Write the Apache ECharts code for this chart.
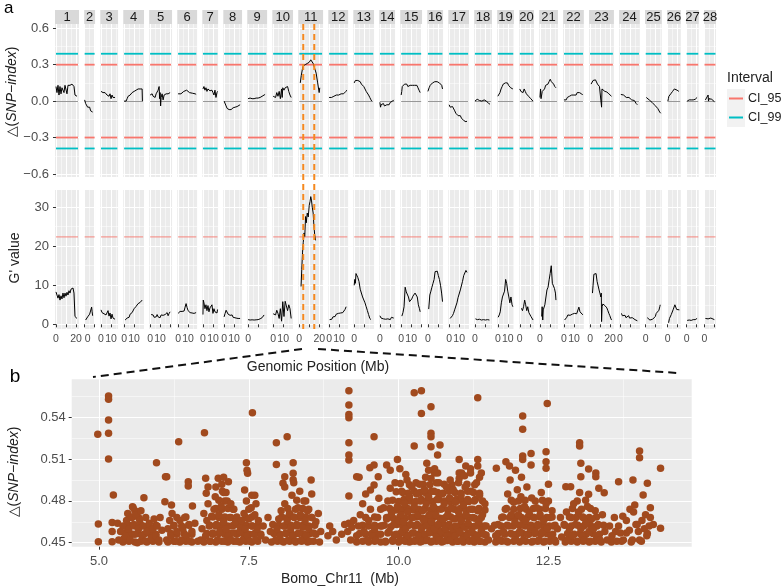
<!DOCTYPE html>
<html><head><meta charset="utf-8">
<script src="https://cdn.jsdelivr.net/npm/echarts@6/dist/echarts.min.js"></script>
<style>html,body{margin:0;padding:0;background:#fff}#c{width:784px;height:587px}</style>
</head><body><div id="c"></div>
<script>
// ---------------- DATA ----------------
const chromosomes = ['1','2','3','4','5','6','7','8','9','10','11','12','13','14','15','16','17','18','19','20','21','22','23','24','25','26','27','28'];
const chrLengthMb = [22,10,16.3,19,21,18.2,14.5,17.2,18.2,19,22.8,18.2,19,14.5,20,14.5,19,16.3,15.4,13.6,17.2,19,22.8,19,15.4,12.7,11.7,11];
const xTickLabelsShown = [[0,20],[0],[0,10],[0,10],[0,10],[0,10],[0,10],[0,10],[0],[0,10],[0,20],[0,10],[0],[0],[0,10],[0],[0,10],[0],[0,10],[0],[0],[0,10],[0,20],[0],[0],[0],[0],[0]];
const ci95Levels = [0.30, -0.30];
const ci99Levels = [0.39, -0.39];
const gPrimeThreshold = [22.4];
const chr11Region = [4, 15];

const deltaSnpIndex = [
 [[0,0.12],[1,0.07],[2,0.13],[3,0.05],[4,0.12],[5,0.06],[6,0.11],[7,0.12],[8,0.07],[9,0.13],[10,0.12],[11,0.06],[12,0.13],[13,0.12],[14,0.13],[15,0.14],[16,0.14],[17,0.13],[18,0.12],[19,0.05],[20,0.04],[21,0.04]],
 [[0,0.01],[1,-0.02],[2,-0.03],[3,-0.05],[4,-0.06],[5,-0.05],[6,-0.08],[7,-0.07],[8,-0.09]],
 [[0,0.08],[1,0.07],[2,0.07],[3,0.06],[4,0.07],[5,0.06],[6,0.05],[7,0.06],[8,0.04],[9,0.06],[10,0.02],[11,0.05],[12,0.03],[13,0.04],[14,0.03]],
 [[0,0],[1,-0.01],[2,0.0],[3,0.02],[4,0.04],[5,0.05],[6,0.05],[7,0.06],[8,0.07],[9,0.06],[10,0.08],[11,0.08],[12,0.09],[13,0.09],[14,0.1],[15,0.09],[16,0.1],[17,0.1],[17.5,0.11],[18,0.1],[18.3,0.0]],
 [[0,0.05],[1,0.04],[2,0.06],[3,0.04],[4,0.05],[5,0.03],[6,0.06],[7,0.05],[8,0.09],[9,0.12],[9.5,0.02],[10,0.07],[10.5,-0.04],[11,0.03],[12,0.06],[13,0.01],[14,0.05],[15,0.04],[16,0.06],[17,0.05],[18,0.06],[19,0.06],[20,0.07]],
 [[0,0.06],[0.95,0.065],[1.9,0.07],[2.85,0.06],[3.8,0.065],[4.75,0.06],[5.7,0.08],[6.65,0.07],[7.6,0.075],[8.55,0.09],[9.5,0.08],[10.45,0.075],[11.4,0.07],[12.35,0.065],[13.3,0.06],[14.25,0.065],[15.2,0.07],[16.15,0.06],[17.1,0.06],[18.05,0.055]],
 [[0,0.1],[1,0.12],[2,0.09],[3,0.11],[4,0.08],[5,0.1],[6,0.09],[7,0.085],[8,0.08],[9,0.09],[10,0.07],[11,0.05],[12,0.09],[13,0.03],[14,0.07],[14.6,0.08]],
 [[0,0.0],[1,-0.01],[2,-0.04],[3,-0.06],[4,-0.07],[5,-0.07],[6,-0.06],[7,-0.07],[8,-0.06],[9,-0.055],[10,-0.05],[11,-0.05],[12,-0.04],[13,-0.045],[14,-0.03],[15,-0.035],[16,-0.03]],
 [[0,0.02],[1,0.02],[2,0.025],[3,0.015],[4,0.02],[5,0.015],[6,0.02],[7,0.02],[8,0.025],[9,0.02],[10,0.025],[11,0.03],[12,0.03],[13,0.035],[14,0.04],[15,0.045],[16,0.05],[17,0.055]],
 [[0,0.04],[1.2,0.05],[2.4,0.03],[3.6,0.07],[4.8,0.04],[6,0.08],[7.2,0.02],[8.4,0.1],[9,0.03],[9.6,0.11],[10.8,0.09],[12,0.11],[13.2,0.1],[14.4,0.12],[15.6,0.08],[16.8,0.05],[18,0.03]],
 [[1,0.15],[2,0.21],[3.3,0.27],[4,0.29],[5,0.28],[6,0.3],[7,0.29],[8,0.31],[9,0.3],[10,0.32],[11,0.33],[11.5,0.34],[12.5,0.33],[13.9,0.31],[15.4,0.27],[16.9,0.23],[18.4,0.15],[19.9,0.07],[20.5,0.11]],
 [[0,0.03],[1.2,0.02],[2.4,0.03],[3.6,0.02],[4.8,0.04],[6,0.05],[7.2,0.05],[8.4,0.06],[9.6,0.05],[10.8,0.06],[12,0.06],[13.2,0.07],[14.4,0.06],[15.6,0.07],[16.8,0.08],[17.6,0.09]],
 [[0,0.15],[1.2,0.17],[2.4,0.18],[3.6,0.17],[4.8,0.16],[6,0.16],[7.2,0.14],[8.4,0.13],[9.6,0.12],[10.8,0.1],[12,0.08],[13.2,0.07],[14.4,0.05],[15.6,0.03],[16.8,0.01],[17.6,0.0]],
 [[0,-0.01],[0.6,-0.05],[1.2,-0.03],[2.3,-0.04],[3.5,-0.02],[4.6,-0.04],[5.8,-0.03],[6.9,-0.03],[8,-0.02],[9.2,-0.03],[10.4,-0.01],[11.5,-0.02],[12.7,0.0],[13.8,0.01]],
 [[0,0.05],[0.6,0.08],[1.1,0.12],[2.2,0.13],[3.4,0.14],[4.5,0.15],[5.6,0.14],[6.7,0.12],[7.8,0.13],[9,0.13],[10.1,0.12],[11.2,0.13],[12.3,0.12],[13.4,0.13],[14.6,0.14],[15.7,0.13],[16.8,0.11],[17.9,0.09],[19,0.07]],
 [[0,0.08],[1.2,0.11],[2.3,0.13],[3.5,0.14],[4.6,0.15],[5.8,0.16],[6.9,0.16],[8,0.17],[9.2,0.16],[10.4,0.17],[11.5,0.15],[12.7,0.14],[13.8,0.13],[14.6,0.1]],
 [[0,-0.03],[1.1,-0.05],[2.2,-0.055],[3.4,-0.045],[4.5,-0.06],[5.6,-0.08],[6.7,-0.1],[7.8,-0.11],[9,-0.12],[10.1,-0.13],[11.2,-0.12],[12.3,-0.14],[13.4,-0.15],[14.6,-0.16],[15.7,-0.165],[16.8,-0.17],[17.9,-0.165]],
 [[0,0.0],[1.2,0.01],[2.3,0.015],[3.5,0.01],[4.6,0.005],[5.8,0.01],[6.9,0.0],[8,0.005],[9.2,0.01],[10.4,-0.005],[11.5,0.0],[12.7,-0.01],[13.8,-0.02],[15,-0.025]],
 [[0,0.04],[1.1,0.05],[2.1,0.07],[3.2,0.1],[4.3,0.12],[5.4,0.14],[6.4,0.13],[7.5,0.15],[8.6,0.165],[9.6,0.15],[10.7,0.13],[11.8,0.14],[12.8,0.11],[13.9,0.1],[15,0.1]],
 [[0,0.1],[1.1,0.08],[2.2,0.09],[3.3,0.07],[4.4,0.1],[5.5,0.08],[6.6,0.06],[7.7,0.07],[8.8,0.04],[9.9,0.05],[11,0.02],[12.1,0.01],[13.2,0.0]],
 [[0,0.03],[0.6,0.1],[1.1,0.02],[2.3,0.08],[3.4,0.09],[4.6,0.1],[5.7,0.13],[6.8,0.12],[8,0.14],[9.1,0.16],[10.3,0.18],[11.4,0.16],[12.5,0.15],[13.7,0.14],[14.8,0.12],[16,0.11]],
 [[0,0.01],[1.1,0.02],[2.2,0.01],[3.3,0.03],[4.4,0.02],[5.5,0.04],[6.6,0.03],[7.7,0.05],[8.8,0.04],[9.9,0.05],[11,0.06],[12.1,0.05],[13.2,0.07],[14.3,0.06],[15.4,0.07],[16.5,0.08],[17.6,0.06],[18.7,0.05]],
 [[1,0.14],[2,0.15],[3,0.17],[4.2,0.18],[5.4,0.175],[6.4,0.16],[7.4,0.14],[8.4,0.13],[9.4,0.12],[10.4,0.12],[11.2,0.11],[11.5,-0.05],[11.9,0.1],[12.8,0.09],[13.8,0.09],[14.8,0.08],[15.8,0.08],[16.8,0.075],[17.8,0.07],[18.8,0.06],[19.8,0.05],[20.6,0.045],[21.4,0.04]],
 [[0.9,0.055],[1.8,0.05],[2.7,0.04],[3.6,0.05],[4.5,0.035],[5.4,0.045],[6.3,0.03],[7.2,0.04],[8.1,0.02],[9,0.03],[9.9,0.02],[10.8,0.025],[11.7,0.01],[12.6,0.015],[13.5,0.0],[14.4,0.005],[15.3,-0.01],[16.2,-0.02],[17.4,-0.03]],
 [[0.6,0.03],[1.6,0.025],[2.5,0.02],[3.5,0.01],[4.4,0.005],[5.4,0.0],[6.3,-0.01],[7.3,-0.02],[8.2,-0.015],[9.2,-0.035],[10.1,-0.05],[11.1,-0.045],[12,-0.06],[13,-0.075],[14,-0.09],[15,-0.1]],
 [[0.3,0.0],[0.8,0.02],[1.3,0.04],[2.3,0.05],[3.2,0.06],[4.1,0.07],[5,0.08],[5.9,0.09],[6.8,0.1],[7.7,0.095],[8.6,0.1],[9.5,0.09],[10.4,0.085],[11.3,0.08]],
 [[0.6,0.0],[1.6,0.005],[2.6,0.01],[3.6,0.0],[4.6,0.01],[5.6,0.015],[6.6,0.01],[7.6,0.02],[8.6,0.015],[9.6,0.025],[10.5,0.03]],
 [[0.9,0.01],[1.8,0.01],[2.7,0.02],[3.6,0.05],[4,0.0],[4.5,0.02],[5.4,0.015],[6.3,0.01],[7.2,0.015],[8.1,0.005],[9,0.01],[9.9,-0.005]]
];

const gPrimeValue = [
 [[0,8.3],[1,7.9],[2,6.7],[3,7.6],[4,6.2],[5,7.3],[6,6.5],[7,8.0],[8,6.8],[9,8.0],[10,7.2],[11,8.2],[12,7.5],[13,8.6],[14,8.0],[15,9.0],[16,9.5],[17,9.3],[18,8.0],[19,2.0],[20,1.6],[21,1.5]],
 [[1,1.1],[2,1.5],[3,1.9],[4,2.2],[5,2.6],[6,3.0],[7,4.4],[7.5,3.2],[8,2.2]],
 [[0,3.7],[1,3.0],[2,3.4],[3,2.7],[4,3.2],[5,2.4],[6,2.8],[7,3.5],[8,2.1],[9,2.9],[10,1.4],[11,2.6],[12,1.6],[13,1.9],[14,1.3]],
 [[1,1.1],[2,1.3],[3,1.6],[4,2.0],[5,1.8],[6,2.6],[7,2.2],[8,3.0],[9,3.4],[10,4.0],[11,3.6],[12,4.6],[13,4.2],[14,5.3],[15,5.0],[16,5.6],[17,5.8],[18,6.2]],
 [[1,2.5],[2,2.2],[3,2.4],[4,1.8],[5,2.2],[6,1.9],[7,2.5],[8,1.9],[9,2.3],[10,1.7],[11,2.4],[12,2.0],[13,2.3],[14,1.9],[15,2.5],[16,2.6],[17,3.0],[18,2.2],[19,2.8],[20,3.2]],
 [[0,2.8],[1,3.1],[2,3.3],[3,2.9],[4,3.3],[5,3.8],[6,3.4],[7,4.4],[8,5.3],[9,4.3],[10,3.5],[11,3.9],[12,3.0],[13,3.2],[14,2.9],[15,3.0],[16,2.8],[17,2.9],[18,3.0]],
 [[0,2.5],[0.3,6.2],[1,5.5],[2,4.0],[3,5.0],[4,3.5],[5,4.8],[6,3.2],[7,4.2],[8,3.7],[9,5.0],[10,2.8],[11,4.0],[12,3.2],[13,3.7],[14,2.9],[14.6,3.8]],
 [[0,1.9],[1,2.8],[2,3.6],[3,3.2],[4,2.6],[5,3.0],[6,2.3],[7,2.0],[8,2.4],[9,1.8],[10,1.6],[12,1.6],[14,1.5],[16,1.5]],
 [[0,1.2],[2,1.1],[4,1.15],[6,1.1],[8,1.15],[10,1.2],[11,1.3],[12,1.4],[13,1.5],[14,1.7],[15,2.0],[16,2.4]],
 [[0,2.7],[1.2,3.0],[2.4,2.4],[3.6,3.6],[4.8,2.8],[6,1.5],[7.2,4.0],[8.4,0.8],[9.6,5.8],[10.8,2.0],[12,5.9],[13.2,5.7],[14.4,3.5],[15.6,5.0],[16.8,4.0],[18,1.5]],
 [[1.8,9.7],[2.5,14],[3.3,18.5],[4,21],[4.8,23.4],[5.5,22.5],[6.3,27.6],[7,26],[8,28.5],[9,27.5],[10,30.5],[10.8,31.5],[11.5,32.7],[12.2,31.8],[13,30],[13.9,28.5],[14.6,25.5],[15.4,23],[16.3,21.5]],
 [[0.5,1.2],[1.6,1.5],[2.7,1.3],[3.8,1.9],[4.9,2.2],[6,2.0],[7.1,2.6],[8.2,2.4],[9.3,2.8],[10.4,2.5],[11.5,2.9],[12.6,2.6],[13.7,3.0],[14.8,3.4],[15.9,3.8],[17,4.5]],
 [[0,10],[0.6,11.5],[1.2,10.5],[1.8,13],[2.4,13.5],[3.6,12],[4.8,11],[6,9],[7.2,8.5],[8.4,7],[9.6,6.5],[10.8,5.5],[12,4.5],[13.2,3.5],[14.4,2.5],[15.6,1.5],[16.8,1.2]],
 [[0,2.2],[1.2,1.6],[2.3,2.0],[3.5,1.4],[4.6,1.8],[5.8,1.3],[6.9,1.7],[8,1.4],[9.2,1.5],[10.4,1.2],[11.5,1.8],[12.7,1.3],[13.8,1.6]],
 [[0.7,2.1],[1.8,3.0],[2.9,4.5],[4,9.5],[5.1,8.3],[6.2,8.6],[7.3,7.0],[8.4,5.8],[9.5,6.2],[10.6,6.5],[11.7,7.2],[12.8,6.8],[13.9,8.0],[15,8.4],[16.1,7.0],[17.2,5.0],[18.3,4.0],[19,3.2]],
 [[0.8,3.9],[1.9,7.5],[3,8.5],[4,9.5],[5.1,10.5],[6.2,11.5],[7.2,13.5],[8.3,13.2],[9.4,13.6],[10.4,12.5],[11.5,11.5],[12.6,10],[13.7,8],[14.6,5.8]],
 [[1,1.5],[2.1,2.0],[3.3,2.2],[4.4,2.8],[5.5,3.7],[6.7,4.0],[7.8,5.5],[8.9,6.8],[10,7.2],[11.2,8.8],[12.3,9.0],[13.4,11],[14.6,12.5],[15.7,13.0],[16.8,13.8],[17.9,13.3]],
 [[0.5,1.4],[2.5,1.2],[4.5,1.3],[6.5,1.1],[8.5,1.2],[10.5,1.1],[12.5,1.2],[14.5,1.1]],
 [[0.3,1.8],[1.4,2.4],[2.4,3.2],[3.5,5.5],[4.6,7.0],[5.6,6.8],[6.7,8.5],[7.8,11.5],[8.8,10.5],[9.9,8.5],[11,7.0],[12,5.5],[13.1,7.0],[14.2,5.0],[15,4.5]],
 [[1.7,4.1],[2.7,3.5],[3.8,4.5],[4.9,6.2],[5.9,5.0],[7,3.5],[8,4.5],[9.1,3.0],[10.1,2.5],[11.2,2.0],[12.2,1.5],[13.3,1.1]],
 [[1.7,2.0],[2.2,4.5],[2.8,1.1],[3.3,3.7],[3.8,4.0],[4.9,5.0],[6,5.5],[7,8.8],[8.1,9.5],[9.2,11.4],[10.2,13],[11.3,15],[12.4,10.5],[13.4,11],[14.5,9.2],[15.5,8.0],[16,6.2]],
 [[0.6,1.1],[1.7,1.5],[2.8,1.8],[3.9,2.4],[5,2.6],[6.1,2.3],[7.2,2.8],[8.3,2.6],[9.4,3.0],[10.5,2.8],[11.6,3.2],[12.7,2.7],[13.8,3.0],[14.9,4.4],[16,3.2],[17.1,3.5],[18.2,2.6],[19,2.4]],
 [[2.4,8.0],[3,10],[3.8,12.8],[4.8,13],[5.4,12.4],[6,13],[7,11],[8,10.5],[9,8.8],[10,7.8],[10.8,7.0],[11.2,8.0],[11.5,0.7],[12,4.5],[12.8,5.2],[13.8,5.4],[14.8,4.8],[15.8,5.0],[16.8,4.2],[17.8,3.5],[18.8,2.8],[19.8,2.2],[20.6,1.6],[21.4,1.1]],
 [[1.5,2.8],[2.4,2.2],[3.3,2.6],[4.2,1.8],[5.1,2.3],[6,1.7],[6.9,2.0],[7.8,1.5],[8.7,2.2],[9.6,1.6],[10.5,1.9],[11.4,1.4],[12.3,1.7],[13.2,1.3],[14.1,1.5],[15,1.2],[15.9,1.4],[16.8,1.0],[17.4,0.9]],
 [[1.5,1.7],[2.4,1.3],[3.3,1.2],[4.2,1.1],[5.1,1.2],[6,1.1],[6.9,1.3],[7.8,1.6],[8.7,1.4],[9.6,2.0],[10.5,2.8],[11.4,2.4],[12.3,3.2],[13.2,3.6],[14.1,4.5],[14.5,5.0]],
 [[1,0.4],[1.9,1.5],[2.8,2.0],[3.7,2.5],[4.6,3.0],[5.5,3.7],[6.4,4.2],[7.3,5.0],[8.2,4.5],[9.1,3.8],[10,4.0],[10.9,3.6],[11.8,3.7]],
 [[0.6,1.0],[2.6,1.1],[4.6,1.0],[6.6,1.2],[8.6,1.2],[10.5,1.5]],
 [[0.9,1.5],[2.7,1.7],[3.6,1.4],[4.5,1.8],[5.4,1.5],[6.3,1.6],[8.1,1.3],[9.9,1.2]]
];

// panel b: sparse / upper points
const chr11SnpIndex = [
 [4.98,0.5278],[4.99,0.4634],[4.99,0.4507],[5.16,0.5553],[5.16,0.5529],[5.16,0.538],[5.16,0.5285],[5.16,0.510],[5.24,0.4842],[5.22,0.4644],[5.22,0.458],[5.22,0.4507],[5.31,0.4639],[5.42,0.453],[5.46,0.4615],[5.56,0.4758],[5.75,0.4823],[5.96,0.5074],[6.11,0.4974],[6.13,0.4974],[6.1,0.4794],[6.21,0.477],[6.33,0.5225],[6.49,0.4938],[6.49,0.4907],[6.56,0.4763],[6.76,0.529],[6.78,0.4962],[6.82,0.49],[6.79,0.4854],[6.99,0.4962],[7.08,0.497],[7.16,0.4938],[7.46,0.5074],[7.47,0.502],[7.48,0.4998],[7.56,0.5433],[7.43,0.4878],[7.6,0.484],[7.96,0.5218],[7.96,0.5062],[8.14,0.5261],[8.24,0.5074],[8.07,0.4926],[8.1,0.4974],[8.24,0.4998],[8.24,0.4951],[8.54,0.495],[8.55,0.485],[9.17,0.5591],[9.17,0.5488],[9.17,0.5421],[9.17,0.5397],[9.17,0.5218],[9.17,0.5129],[9.17,0.5093],[9.17,0.4835],[9.17,0.4639],[9.59,0.5261],[9.3,0.4974],[9.34,0.497],[9.52,0.5038],[9.59,0.5058],[9.59,0.4914],[9.53,0.4878],[9.67,0.4818],[9.8,0.5058],[9.86,0.502],[9.66,0.4974],
 [10.26,0.5577],[10.38,0.5591],[10.38,0.5428],[10.54,0.5476],[10.54,0.5285],[10.54,0.5261],[10.54,0.5189],[10.69,0.5201],[10.26,0.5194],[10.65,0.5129],[11.32,0.5541],[12.07,0.5409],[12.07,0.5314],[12.48,0.55],[12.46,0.5153],[13.02,0.5218],[13.02,0.5194],[14.02,0.5158],[14.02,0.511],[14.37,0.5034],[14.37,0.4603],[13.67,0.4938],[13.91,0.495],[14.15,0.4926],[14.08,0.4842],[11.01,0.5098],[11.32,0.5098],[11.63,0.5034],[11.79,0.5081],[12.21,0.5141],[12.07,0.5122],[12.07,0.5098],[12.21,0.5058],[12.46,0.5081],[12.46,0.5034],[13.04,0.507],[13.17,0.5029],[13.04,0.4974],[13.29,0.5],[13.29,0.4974],[12.79,0.4902],[12.87,0.4902],[13.34,0.489],[13.43,0.4859],[13.17,0.4847],
 [9.98,0.5098],[10.02,0.503],[10.47,0.507],[10.6,0.503],[10.65,0.5],[11.01,0.5],[11.12,0.505],[11.2,0.503],[11.32,0.505],[11.38,0.5],[11.85,0.505],[11.95,0.502],
 [5.33,0.452],[5.36,0.458],[5.4,0.462],[5.44,0.455],[5.46,0.466],[5.48,0.471],[5.5,0.46],[5.52,0.452],[5.55,0.468],[5.57,0.475],[5.58,0.463],[5.6,0.456],[5.62,0.47],[5.64,0.45],[5.66,0.46],[5.68,0.466],[5.7,0.473],[5.72,0.455],[5.74,0.462],[5.78,0.451],[5.8,0.458],[5.84,0.464],[5.87,0.453],[5.9,0.46],[5.92,0.467],[5.95,0.455],[5.97,0.462],[6.0,0.452],[6.02,0.468],[6.05,0.459],
 [6.13,0.452],[6.15,0.46],[6.18,0.466],[6.2,0.455],[6.22,0.471],[6.25,0.462],[6.28,0.451],[6.3,0.458],[6.35,0.466],[6.38,0.452],[6.4,0.46],[6.43,0.468],[6.46,0.455],[6.5,0.463],[6.52,0.451],[6.55,0.458],[6.6,0.464],
 [6.7,0.452],[6.72,0.46],[6.75,0.471],[6.78,0.455],[6.8,0.466],[6.82,0.478],[6.84,0.462],[6.86,0.451],[6.88,0.469],[6.9,0.457],[6.92,0.474],[6.94,0.483],[6.96,0.463],[6.98,0.452],[7.0,0.47],[7.02,0.458],[7.04,0.476],[7.06,0.487],[7.08,0.465],[7.1,0.451],[7.12,0.46],[7.14,0.48],[7.16,0.455],[7.18,0.468],[7.2,0.452],[7.22,0.462],[7.24,0.474],[7.26,0.457],[7.28,0.465],[7.3,0.451],[6.95,0.49],[7.05,0.492],[7.12,0.486],[7.2,0.478],
 [7.35,0.458],[7.38,0.466],[7.4,0.452],[7.42,0.471],[7.44,0.46],[7.46,0.48],[7.48,0.455],[7.5,0.467],[7.52,0.451],[7.54,0.475],[7.56,0.462],[7.58,0.456],[7.6,0.47],[7.62,0.452],[7.64,0.46],[7.66,0.466],[7.7,0.455],[7.74,0.462],[7.78,0.452],[7.82,0.468],[7.86,0.458],[7.9,0.463],[7.55,0.484],[7.62,0.478],
 [7.95,0.452],[7.97,0.46],[8.0,0.467],[8.02,0.455],[8.04,0.473],[8.06,0.451],[8.08,0.462],[8.1,0.478],[8.12,0.457],[8.14,0.466],[8.16,0.452],[8.18,0.471],[8.2,0.46],[8.22,0.484],[8.24,0.455],[8.26,0.468],[8.28,0.451],[8.3,0.463],[8.32,0.475],[8.34,0.457],[8.36,0.47],[8.38,0.452],[8.4,0.461],[8.42,0.48],[8.44,0.466],[8.46,0.455],[8.48,0.473],[8.5,0.46],[8.52,0.451],[8.55,0.468],[8.58,0.457],[8.62,0.465],[8.66,0.471],[8.7,0.458],[8.1,0.49],[8.25,0.493],[8.35,0.487],
 [8.82,0.455],[8.85,0.462],[8.9,0.458],[8.96,0.452],[9.05,0.456],[9.1,0.463],[9.15,0.458],[9.2,0.452],[9.22,0.461],[9.25,0.466],
 [9.3,0.455],[9.33,0.462],[9.36,0.47],[9.4,0.478],[9.42,0.458],[9.45,0.485],[9.48,0.452],[9.5,0.466],[9.53,0.474],[9.56,0.455],[9.6,0.46],[9.62,0.452],[9.65,0.468],[9.7,0.456],[9.72,0.462],[9.75,0.475],[9.78,0.451],[9.8,0.467],[9.82,0.48],[9.84,0.458],[9.86,0.489],[9.88,0.471],[9.9,0.452],[9.92,0.463],[9.94,0.493],[9.96,0.456],[9.98,0.476],[10.0,0.466],
 [10.02,0.452],[10.04,0.47],[10.05,0.487],[10.06,0.458],[10.08,0.465],[10.1,0.478],[10.11,0.451],[10.12,0.46],[10.14,0.495],[10.15,0.472],[10.16,0.455],[10.18,0.483],[10.2,0.463],[10.21,0.451],[10.22,0.49],[10.24,0.468],[10.25,0.457],[10.26,0.476],[10.28,0.452],[10.3,0.485],[10.31,0.463],[10.32,0.47],[10.34,0.455],[10.35,0.492],[10.36,0.48],[10.38,0.46],[10.39,0.451],[10.4,0.473],[10.42,0.466],[10.43,0.488],[10.44,0.456],[10.46,0.478],[10.47,0.462],[10.48,0.452],[10.5,0.483],[10.51,0.47],[10.52,0.458],[10.54,0.496],[10.55,0.465],[10.56,0.451],[10.58,0.476],[10.59,0.487],[10.6,0.46],[10.62,0.47],[10.63,0.454],[10.64,0.481],[10.66,0.463],[10.67,0.493],[10.68,0.452],[10.7,0.474],[10.71,0.458],[10.72,0.485],[10.74,0.467],[10.75,0.451],[10.76,0.478],[10.78,0.46],[10.8,0.49],[10.81,0.455],[10.82,0.47],[10.84,0.463],[10.85,0.482],[10.86,0.452],[10.88,0.475],[10.9,0.46],[10.91,0.488],[10.92,0.467],[10.94,0.455],[10.95,0.479],[10.96,0.462],[10.98,0.451],[11.0,0.472],[11.01,0.496],[11.02,0.458],[11.04,0.484],[11.05,0.466],[11.06,0.452],[11.08,0.477],[11.1,0.461],[11.11,0.49],[11.12,0.47],[11.14,0.455],[11.15,0.481],[11.16,0.464],[11.18,0.451],[11.2,0.474],[11.21,0.487],[11.22,0.458],[11.24,0.468],[11.25,0.452],[11.26,0.48],[11.28,0.462],[11.3,0.493],[11.31,0.455],[11.32,0.473],[11.34,0.465],[11.35,0.484],[11.36,0.451],[11.38,0.459],[11.4,0.47],[11.42,0.456],[11.44,0.478],[11.46,0.462],
 [10.5,0.502],[10.6,0.5],[10.12,0.499],[10.45,0.497],[11.05,0.5],[11.1,0.498],[11.2,0.5],[11.35,0.497],[10.86,0.495],
 [11.5,0.452],[11.55,0.46],[11.62,0.455],[11.66,0.463],[11.7,0.452],[11.72,0.468],[11.75,0.458],[11.78,0.474],[11.8,0.451],[11.82,0.485],[11.84,0.462],[11.86,0.495],[11.88,0.47],[11.9,0.456],
 [11.92,0.479],[11.94,0.465],[11.96,0.452],[11.98,0.488],[12.0,0.47],[12.02,0.458],[12.04,0.483],[12.05,0.497],[12.06,0.463],[12.08,0.452],[12.1,0.476],[12.12,0.466],[12.14,0.49],[12.15,0.456],[12.18,0.471],[12.2,0.46],[12.22,0.482],[12.24,0.451],[12.26,0.468],[12.28,0.458],[12.3,0.475],[12.32,0.463],[12.34,0.452],[12.36,0.47],[12.38,0.486],[12.4,0.458],[12.42,0.466],[12.44,0.451],[12.46,0.478],[12.48,0.46],[12.5,0.492],[12.52,0.468],[12.54,0.455],[12.56,0.473],[12.58,0.462],[12.6,0.452],
 [12.65,0.46],[12.7,0.468],[12.72,0.454],[12.76,0.463],[12.8,0.472],[12.82,0.452],[12.85,0.46],[12.88,0.468],[12.9,0.455],[12.92,0.478],[12.95,0.463],[12.98,0.451],[13.0,0.472],[13.02,0.486],[13.04,0.46],[13.06,0.455],[13.08,0.468],[13.1,0.452],[13.12,0.464],[13.15,0.476],[13.18,0.458],[13.2,0.451],[13.22,0.467],[13.25,0.46],[13.28,0.473],[13.3,0.455],[13.33,0.463],[13.36,0.452],[13.4,0.47],[13.44,0.458],[13.48,0.452],
 [13.52,0.462],[13.56,0.455],[13.6,0.468],[13.64,0.451],[13.67,0.462],[13.7,0.457],[13.75,0.452],[13.8,0.466],[13.85,0.459],[13.9,0.452],[13.92,0.472],[13.94,0.477],[13.96,0.463],[14.0,0.458],[14.02,0.452],[14.06,0.466],[14.1,0.46],[14.14,0.455],[14.18,0.462],[14.2,0.468]
];
// panel b: dense lower band (solid-looking clusters)
const chr11SnpIndexDense = [
 [9.78,0.4505],[9.9,0.451],[10.0,0.4505],[10.09,0.4515],[10.18,0.4505],[10.27,0.451],[10.36,0.4505],[10.45,0.4515],[10.54,0.4505],[10.63,0.451],[10.72,0.4505],[10.81,0.4515],[10.9,0.4505],[10.99,0.451],[11.08,0.4505],[11.17,0.4515],[11.26,0.4505],[11.35,0.451],[11.44,0.4505],
 [9.82,0.457],[9.93,0.4555],[10.03,0.4565],[10.13,0.4555],[10.23,0.457],[10.33,0.456],[10.42,0.4555],[10.51,0.457],[10.61,0.4565],[10.7,0.4555],[10.79,0.457],[10.88,0.456],[10.97,0.4565],[11.07,0.4555],[11.16,0.457],[11.26,0.456],[11.37,0.4565],[11.46,0.4555],
 [9.76,0.4625],[9.87,0.4615],[9.97,0.463],[10.07,0.4615],[10.17,0.4625],[10.27,0.462],[10.37,0.4615],[10.46,0.463],[10.56,0.462],[10.65,0.4615],[10.75,0.463],[10.84,0.462],[10.93,0.4615],[11.03,0.4625],[11.13,0.462],[11.23,0.4615],[11.33,0.463],[11.43,0.462],
 [9.8,0.468],[9.91,0.4675],[10.02,0.4685],[10.11,0.4675],[10.21,0.468],[10.3,0.4685],[10.4,0.4675],[10.49,0.468],[10.59,0.4685],[10.69,0.4675],[10.78,0.468],[10.87,0.4685],[10.97,0.4675],[11.06,0.468],[11.16,0.4685],[11.27,0.4675],[11.38,0.468],
 [9.85,0.4745],[9.95,0.4735],[10.05,0.474],[10.15,0.4745],[10.25,0.4735],[10.34,0.474],[10.44,0.4745],[10.54,0.4735],[10.63,0.474],[10.73,0.4745],[10.83,0.4735],[10.93,0.474],[11.03,0.4745],[11.13,0.4735],[11.24,0.474],[11.34,0.4745],[11.44,0.4735],
 [9.9,0.4805],[10.0,0.4795],[10.09,0.481],[10.19,0.48],[10.28,0.4795],[10.38,0.481],[10.48,0.48],[10.57,0.4795],[10.67,0.481],[10.77,0.48],[10.86,0.4795],[10.96,0.481],[11.06,0.48],[11.17,0.4795],[11.28,0.481],[11.4,0.48],
 [9.96,0.4865],[10.07,0.486],[10.16,0.4855],[10.26,0.487],[10.36,0.486],[10.46,0.4855],[10.55,0.487],[10.65,0.486],[10.74,0.4855],[10.84,0.487],[10.94,0.486],[11.04,0.4855],[11.15,0.487],[11.25,0.486],[11.35,0.4855],
 [10.03,0.4925],[10.18,0.4915],[10.29,0.493],[10.41,0.492],[10.52,0.4915],[10.63,0.493],[10.76,0.492],[10.89,0.4915],[11.0,0.493],[11.14,0.492],[11.27,0.4915],
 [11.62,0.4505],[11.72,0.451],[11.82,0.4505],[11.92,0.451],[12.02,0.4505],[12.12,0.451],[12.22,0.4505],[12.32,0.451],[12.42,0.4505],[12.52,0.451],[12.62,0.4505],
 [11.66,0.4565],[11.77,0.456],[11.87,0.4565],[11.97,0.456],[12.07,0.4565],[12.17,0.456],[12.27,0.4565],[12.37,0.456],[12.47,0.4565],[12.57,0.456],
 [11.6,0.4625],[11.71,0.462],[11.81,0.4625],[11.91,0.462],[12.01,0.4625],[12.11,0.462],[12.21,0.4625],[12.31,0.462],[12.41,0.4625],[12.51,0.462],[12.61,0.4625],
 [11.74,0.4685],[11.85,0.468],[11.95,0.4685],[12.05,0.468],[12.16,0.4685],[12.26,0.468],[12.36,0.4685],[12.47,0.468],[12.56,0.4685],
 [11.8,0.4745],[11.92,0.474],[12.03,0.4745],[12.13,0.474],[12.25,0.4745],[12.35,0.474],[12.45,0.4745],
 [11.88,0.4805],[12.0,0.48],[12.11,0.4805],[12.28,0.48],[12.4,0.4805],[12.5,0.48],
 [12.78,0.4505],[12.88,0.451],[12.98,0.4505],[13.08,0.451],[13.18,0.4505],[13.28,0.451],[13.38,0.4505],
 [12.82,0.4565],[12.93,0.456],[13.03,0.4565],[13.13,0.456],[13.24,0.4565],[13.35,0.456],
 [12.77,0.4625],[12.88,0.462],[12.99,0.4625],[13.09,0.462],[13.2,0.4625],[13.31,0.462],[13.42,0.4625],
 [12.85,0.4685],[12.96,0.468],[13.07,0.4685],[13.18,0.468],[13.3,0.4685],
 [12.9,0.4745],[13.05,0.474],[13.2,0.4745],[12.98,0.48],[13.12,0.4805],
 [13.55,0.4505],[13.72,0.451],[13.88,0.4505],[14.05,0.451],[14.15,0.4565],[13.8,0.457],[13.62,0.458],[13.98,0.463],[14.12,0.47],[14.2,0.475],[13.74,0.469],[13.86,0.474],[14.25,0.463],
 [5.4,0.4505],[5.5,0.451],[5.6,0.4505],[5.7,0.451],[5.8,0.4505],[5.9,0.451],[6.0,0.4505],[5.45,0.457],[5.55,0.456],[5.65,0.4565],[5.75,0.456],[5.85,0.4565],[5.95,0.456],[5.5,0.4625],[5.6,0.462],[5.7,0.4625],[5.82,0.462],[5.95,0.4625],[5.55,0.4685],[5.66,0.468],[5.78,0.468],[5.6,0.473],
 [6.15,0.4505],[6.25,0.451],[6.35,0.4505],[6.45,0.451],[6.55,0.4505],[6.65,0.451],[6.2,0.4565],[6.3,0.456],[6.42,0.4565],[6.55,0.456],[6.25,0.4625],[6.38,0.462],[6.5,0.4625],[6.3,0.468],[6.45,0.4685],
 [6.75,0.4505],[6.85,0.451],[6.95,0.4505],[7.05,0.451],[7.15,0.4505],[7.25,0.451],[7.35,0.4505],[7.45,0.451],[7.55,0.4505],[7.65,0.451],[6.8,0.4565],[6.9,0.456],[7.0,0.4565],[7.1,0.456],[7.2,0.4565],[7.3,0.456],[7.4,0.4565],[7.5,0.456],[7.6,0.4565],[7.7,0.456],[6.85,0.4625],[6.95,0.462],[7.05,0.4625],[7.15,0.462],[7.25,0.4625],[7.35,0.462],[7.45,0.4625],[7.55,0.462],[7.65,0.4625],[6.9,0.4685],[7.0,0.468],[7.1,0.4685],[7.2,0.468],[7.3,0.4685],[7.45,0.468],[7.55,0.4685],[6.95,0.4745],[7.05,0.474],[7.15,0.4745],[7.25,0.474],[7.5,0.474],[7.0,0.4805],[7.1,0.48],[7.08,0.486],
 [7.88,0.4505],[7.98,0.451],[8.08,0.4505],[8.18,0.451],[8.28,0.4505],[8.38,0.451],[8.48,0.4505],[8.58,0.451],[8.68,0.4505],[7.92,0.4565],[8.02,0.456],[8.12,0.4565],[8.22,0.456],[8.32,0.4565],[8.42,0.456],[8.52,0.4565],[8.62,0.456],[8.0,0.4625],[8.1,0.462],[8.2,0.4625],[8.3,0.462],[8.4,0.4625],[8.5,0.462],[8.6,0.4625],[8.05,0.4685],[8.15,0.468],[8.25,0.4685],[8.35,0.468],[8.45,0.4685],[8.55,0.468],[8.15,0.4745],[8.28,0.474],[8.4,0.4745],[8.5,0.474],[8.3,0.4805],[8.45,0.48],
 [9.3,0.4505],[9.4,0.451],[9.5,0.4505],[9.6,0.451],[9.7,0.4505],[9.35,0.4565],[9.45,0.456],[9.55,0.4565],[9.65,0.456],[9.4,0.4625],[9.5,0.462],[9.6,0.4625],[9.7,0.462],[9.45,0.468],[9.6,0.4685],[9.7,0.474]
];

const scatterXTicks = [5, 7.5, 10, 12.5];
const scatterYTicks = [0.45, 0.48, 0.51, 0.54];

// ---------------- LAYOUT / STYLE ----------------
const FONT = '"Liberation Sans", Arial, Helvetica, sans-serif';
const RED = '#F8766D', TEAL = '#00BFC4', PANEL = '#EBEBEB', DOT = '#A14A1E';
const PANEL_L = 55, PANEL_R = 716, GAP = 5.2, EXPAND = 0.045;
const TOP1 = 24, H1 = 153, TOP2 = 190, H2 = 139;
const totalMb = chrLengthMb.reduce((a, b) => a + b, 0);
const pxPerMb = (PANEL_R - PANEL_L - GAP * (chromosomes.length - 1)) / (totalMb * (1 + 2 * EXPAND));
const lefts = [], widths = [];
let cx = PANEL_L;
chrLengthMb.forEach(L => { const w = L * (1 + 2 * EXPAND) * pxPerMb; lefts.push(cx); widths.push(w); cx += w + GAP; });

const grids = [], xAxes = [], yAxes = [], series = [], graphics = [];
const minus = s => String(s).replace('-', '\u2212');

function addGrid(left, top, width, height) {
  grids.push({ left, top, width, height, show: true, backgroundColor: PANEL, borderWidth: 0, borderColor: 'transparent' });
  return grids.length - 1;
}
function addAxes(g, xMin, xMax, xMajor, xMinor, xLabels, showX, xFmt, xLabelSize,
                 yMin, yMax, yMajor, yMinor, showY, yFmt, yLabelSize) {
  const xi = xAxes.length;
  xAxes.push({ type: 'value', gridIndex: g, min: xMin, max: xMax, position: 'bottom',
    axisLine: { show: false },
    axisTick: { show: showX, length: 3, lineStyle: { color: '#333', width: 1 }, customValues: xMajor },
    axisLabel: { show: showX, customValues: xLabels, color: '#4D4D4D', fontSize: xLabelSize, fontFamily: FONT, margin: 5, formatter: xFmt },
    splitLine: { show: true, lineStyle: { color: '#fff', width: 1.1 } } });
  xAxes.push({ type: 'value', gridIndex: g, min: xMin, max: xMax, position: 'top',
    axisLine: { show: false }, axisTick: { show: false, customValues: xMinor }, axisLabel: { show: false },
    splitLine: { show: true, lineStyle: { color: '#fff', width: 0.5 } } });
  const yi = yAxes.length;
  yAxes.push({ type: 'value', gridIndex: g, min: yMin, max: yMax, position: 'left',
    axisLine: { show: false },
    axisTick: { show: showY, length: 3, lineStyle: { color: '#333', width: 1 }, customValues: yMajor },
    axisLabel: { show: showY, customValues: yMajor, color: '#4D4D4D', fontSize: yLabelSize, fontFamily: FONT, margin: 6, formatter: yFmt },
    splitLine: { show: true, lineStyle: { color: '#fff', width: 1.1 } } });
  yAxes.push({ type: 'value', gridIndex: g, min: yMin, max: yMax, position: 'right',
    axisLine: { show: false }, axisTick: { show: false, customValues: yMinor }, axisLabel: { show: false },
    splitLine: { show: true, lineStyle: { color: '#fff', width: 0.5 } } });
  return { xi, yi };
}

const topAxisIdx = [];
chromosomes.forEach((name, i) => {
  const L = chrLengthMb[i];
  const xMin = -EXPAND * L, xMax = (1 + EXPAND) * L;
  const xMajor = [0, 10, 20, 30].filter(v => v <= xMax);
  const xMinor = [5, 15, 25].filter(v => v <= xMax);
  // ---- Delta SNP-index panel ----
  const g1 = addGrid(lefts[i], TOP1, widths[i], H1);
  const a1 = addAxes(g1, xMin, xMax, xMajor, xMinor, xTickLabelsShown[i], false, v => String(v), 10.5,
    -0.625, 0.635, [-0.6, -0.3, 0, 0.3, 0.6], [-0.45, -0.15, 0.15, 0.45], i === 0,
    v => minus(Number(v).toFixed(1)), 13);
  topAxisIdx.push(a1.xi);
  ci95Levels.forEach((lv, k) => series.push({ type: 'line', name: 'CI_95', xAxisIndex: a1.xi, yAxisIndex: a1.yi,
    data: [[0, lv], [L, lv]], showSymbol: false, silent: true, animation: false,
    lineStyle: { color: RED, width: 1.8 }, itemStyle: { color: RED },
    markLine: k === 0 ? { silent: true, symbol: 'none', animation: false, label: { show: false },
      lineStyle: { color: '#8C8C8C', width: 0.9, type: 'solid' }, data: [[{ coord: [0, 0] }, { coord: [L, 0] }]] } : undefined }));
  ci99Levels.forEach(lv => series.push({ type: 'line', name: 'CI_99', xAxisIndex: a1.xi, yAxisIndex: a1.yi,
    data: [[0, lv], [L, lv]], showSymbol: false, silent: true, animation: false,
    lineStyle: { color: TEAL, width: 1.8 }, itemStyle: { color: TEAL } }));
  series.push({ type: 'line', name: 'dSNP' + name, xAxisIndex: a1.xi, yAxisIndex: a1.yi, data: deltaSnpIndex[i],
    showSymbol: false, silent: true, animation: false, lineStyle: { color: '#000', width: 1 }, z: 5 });
  // strip
  graphics.push({ type: 'rect', shape: { x: lefts[i], y: 10, width: widths[i], height: 14 }, style: { fill: '#D9D9D9' } });
  graphics.push({ type: 'text', x: lefts[i] + widths[i] / 2, y: 17.5,
    style: { text: name, fill: '#1A1A1A', font: '13px ' + FONT, align: 'center', verticalAlign: 'middle' } });
  // ---- G' panel ----
  const g2 = addGrid(lefts[i], TOP2, widths[i], H2);
  const a2 = addAxes(g2, xMin, xMax, xMajor, xMinor, xTickLabelsShown[i], true, v => String(v), 10.5,
    -1.2, 34.4, [0, 10, 20, 30], [5, 15, 25], i === 0, v => String(v), 13);
  if (i > 0 && xTickLabelsShown[i - 1].indexOf(20) >= 0 && widths[i] < 12) xAxes[a2.xi].axisLabel.align = 'left';
  series.push({ type: 'line', name: 'Gthreshold', xAxisIndex: a2.xi, yAxisIndex: a2.yi,
    data: [[0, gPrimeThreshold[0]], [L, gPrimeThreshold[0]]], showSymbol: false, silent: true, animation: false,
    lineStyle: { color: RED, width: 1.4, opacity: 0.7 } });
  series.push({ type: 'line', name: 'G' + name, xAxisIndex: a2.xi, yAxisIndex: a2.yi, data: gPrimeValue[i],
    showSymbol: false, silent: true, animation: false, lineStyle: { color: '#000', width: 1 }, z: 5 });
});

// ---- panel b scatter ----
const gb = addGrid(71.7, 379.3, 620, 167.4);
const ab = addAxes(gb, 4.545, 14.89, scatterXTicks, [6.25, 8.75, 11.25, 13.75], scatterXTicks, true,
  v => Number(v).toFixed(1), 13, 0.4471, 0.5673, scatterYTicks, [0.465, 0.495, 0.525, 0.555], true,
  v => Number(v).toFixed(2), 13);
xAxes[ab.xi].axisLabel.margin = 8;
[chr11SnpIndexDense, chr11SnpIndex].forEach((pts, k) => series.push({ type: 'scatter', name: 'chr11_' + k,
  xAxisIndex: ab.xi, yAxisIndex: ab.yi, data: pts, symbolSize: 7.5,
  itemStyle: { color: DOT, opacity: 1 }, silent: true, animation: false }));

// ---- texts ----
graphics.push({ type: 'text', x: 4, y: 0, style: { text: 'a', font: '17px ' + FONT, fill: '#000', align: 'left', verticalAlign: 'top' } });
graphics.push({ type: 'text', x: 15, y: 377, style: { text: 'b', font: '19px ' + FONT, fill: '#000', align: 'center', verticalAlign: 'middle' } });
graphics.push({ type: 'text', x: 12, y: 92, rotation: Math.PI / 2,
  style: { text: '{n|\u25B3(}{i|SNP\u2212index}{n|)}', align: 'center', verticalAlign: 'middle',
    rich: { n: { font: '14px ' + FONT, fill: '#222' }, i: { font: 'italic 14px ' + FONT, fill: '#222' } } } });
graphics.push({ type: 'text', x: 15, y: 258, rotation: Math.PI / 2,
  style: { text: "G' value", font: '14px ' + FONT, fill: '#222', align: 'center', verticalAlign: 'middle' } });
graphics.push({ type: 'text', x: 14, y: 472, rotation: Math.PI / 2,
  style: { text: '{n|\u25B3(}{i|SNP\u2212index}{n|)}', align: 'center', verticalAlign: 'middle',
    rich: { n: { font: '14px ' + FONT, fill: '#222' }, i: { font: 'italic 14px ' + FONT, fill: '#222' } } } });
graphics.push({ type: 'text', x: 318, y: 367, style: { text: 'Genomic Position (Mb)', font: '14px ' + FONT, fill: '#222', align: 'center', verticalAlign: 'middle' } });
graphics.push({ type: 'text', x: 340, y: 579, style: { text: 'Bomo_Chr11  (Mb)', font: '14px ' + FONT, fill: '#222', align: 'center', verticalAlign: 'middle' } });
graphics.push({ type: 'text', x: 727, y: 78, style: { text: 'Interval', font: '14px ' + FONT, fill: '#222', align: 'left', verticalAlign: 'middle' } });
graphics.push({ type: 'rect', shape: { x: 727, y: 89, width: 18, height: 38 }, style: { fill: '#F2F2F2' } });
// zoom connector dashes
graphics.push({ type: 'line', shape: { x1: 302, y1: 349, x2: 93, y2: 377 }, style: { stroke: '#111', lineWidth: 2, lineDash: [8, 5] } });
graphics.push({ type: 'line', shape: { x1: 318, y1: 349, x2: 678, y2: 373 }, style: { stroke: '#111', lineWidth: 2, lineDash: [8, 5] } });

const chart = echarts.init(document.getElementById('c'), null, { renderer: 'canvas', width: 784, height: 587 });
const option = {
  animation: false,
  backgroundColor: '#fff',
  textStyle: { fontFamily: FONT },
  grid: grids, xAxis: xAxes, yAxis: yAxes, series,
  legend: { data: [{ name: 'CI_95', icon: 'rect' }, { name: 'CI_99', icon: 'rect' }], orient: 'vertical',
    left: 729, top: 89, padding: 0, itemGap: 0, itemWidth: 14, itemHeight: 2, selectedMode: false,
    textStyle: { fontSize: 12.5, color: '#1A1A1A', fontFamily: FONT, lineHeight: 19 } }
};
chart.setOption(option);

// orange region markers on chromosome 11 through both panels
const chrIdx = chromosomes.indexOf('11');
chr11Region.forEach(mb => {
  const px = chart.convertToPixel({ xAxisIndex: topAxisIdx[chrIdx] }, mb);
  graphics.push({ type: 'line', z: 100, shape: { x1: px, y1: TOP1, x2: px, y2: TOP2 + H2 },
    style: { stroke: '#F5891F', lineWidth: 2, lineDash: [6, 4] } });
});
chart.setOption({ graphic: graphics });
</script></body></html>
